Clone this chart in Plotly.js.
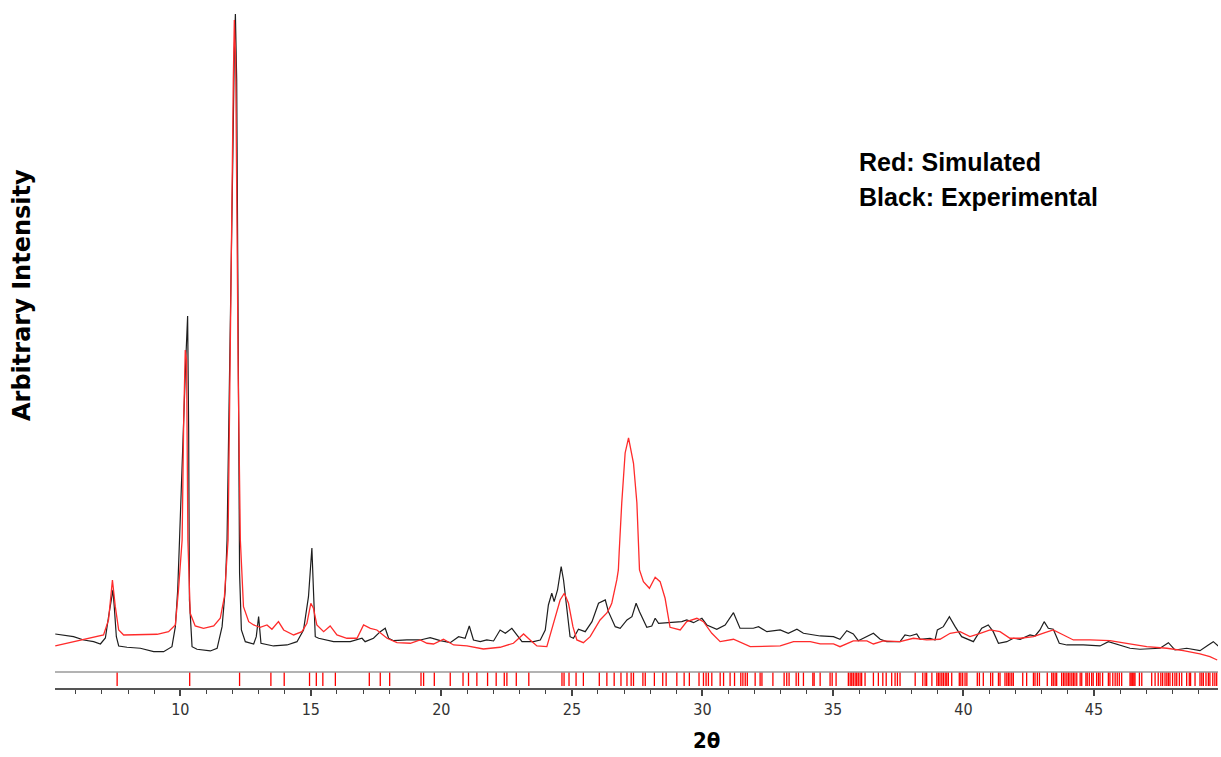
<!DOCTYPE html>
<html>
<head>
<meta charset="utf-8">
<script src="https://cdn.plot.ly/plotly-3.0.1.min.js"></script>
<style>html,body{margin:0;padding:0;background:#fff;}#chart{width:1221px;height:757px;}</style>
</head>
<body>
<div id="chart"></div>
<script>
// Experimental pattern (black): 2θ and arbitrary intensity
const expTwoTheta = [5.21,5.91,6.30,6.68,6.94,7.13,7.25,7.35,7.42,7.47,7.55,7.64,7.96,8.47,8.98,9.36,9.68,9.81,9.90,9.97,10.06,10.13,10.21,10.26,10.28,10.32,10.35,10.45,10.64,11.15,11.41,11.60,11.72,11.79,11.86,11.93,12.01,12.07,12.11,12.16,12.20,12.24,12.27,12.34,12.49,12.81,12.91,13.00,13.09,13.57,14.09,14.47,14.72,14.91,15.04,15.10,15.17,15.30,15.87,16.51,16.96,17.08,17.40,17.66,17.85,17.98,18.17,18.68,19.19,19.57,19.96,20.34,20.66,20.91,21.07,21.23,21.49,21.74,22.00,22.25,22.45,22.70,22.89,23.09,23.53,23.79,23.98,24.10,24.23,24.32,24.45,24.59,24.68,24.81,24.93,25.06,25.25,25.51,25.77,26.02,26.28,26.40,26.66,26.85,27.11,27.30,27.46,27.59,27.74,27.87,28.06,28.19,28.32,28.64,28.89,29.21,29.40,29.66,29.98,30.17,30.55,30.87,31.19,31.44,31.95,32.15,32.47,32.98,33.29,33.62,33.87,34.25,34.51,35.02,35.27,35.53,35.78,35.97,36.23,36.55,36.81,37.06,37.57,37.76,37.95,38.21,38.34,38.72,38.91,39.00,39.23,39.46,39.68,39.93,40.38,40.70,40.95,41.14,41.34,41.66,41.91,42.17,42.55,42.74,42.93,43.09,43.25,43.44,43.67,43.96,44.59,45.23,45.55,45.87,46.38,46.76,47.53,47.85,48.10,48.55,49.06,49.38,49.57,49.76];
const expIntensity = [38,35.3,32,30.3,28,34,55,72,82,65.3,35.3,26,24.7,23.7,20.3,20.3,25.3,45.3,82,132,192,252,312,347,356,242,72,25.3,22.7,21,23.7,45.3,82,132,242,372,512,622,658,592,422,242,99,42,30.3,28,35.3,55.3,28.7,26,27,30.3,42,75.3,124,82,35.3,33.7,30.3,30.3,33.7,30.3,33.7,40.3,43.7,33.7,31.3,32,32,34.3,31.3,29.3,35.3,33.7,46,32,30.3,32,31,42,38.7,43.7,37,30.3,30.3,32,42,67,78.7,70.3,82,105.3,92,58.7,35.3,33.7,42.7,40.3,50.3,68.7,72,60.3,45.3,43.7,52,55.3,68.7,60.3,52,44.7,46,53.7,48.7,49.3,49.3,50.3,52,49.3,53.7,47,42.7,47,59.3,43.7,43.7,45.3,40.3,42,38.7,42.7,38.7,37,36,35.3,32.7,41.3,38,31.3,34.7,38.7,32.7,30.3,30.3,37,36,38,32.7,33.7,32,42,45.3,55.3,45.3,35.3,30.3,43.7,47,40.3,28.7,30.3,33.7,32.7,37,36,42,50.3,43.7,42.7,28.7,27,27,26,30.3,28,23.7,22.7,23.7,29.3,22,23.7,21.3,27,30.3,26];

// Simulated pattern (red)
const simTwoTheta = [5.21,5.91,6.55,7.06,7.25,7.40,7.51,7.64,7.83,8.47,9.11,9.55,9.81,9.93,10.07,10.13,10.19,10.24,10.29,10.38,10.57,10.89,11.28,11.53,11.69,11.83,11.90,11.97,12.03,12.07,12.12,12.16,12.22,12.30,12.42,12.62,12.81,13.06,13.32,13.51,13.76,13.96,14.34,14.66,14.85,15.00,15.10,15.23,15.49,15.74,16.00,16.38,16.77,17.02,17.28,17.53,17.92,18.30,18.81,19.19,19.45,19.70,20.08,20.47,20.98,21.61,22.25,22.76,23.15,23.40,23.66,24.04,24.30,24.55,24.71,24.87,25.04,25.19,25.44,25.70,26.08,26.34,26.47,26.53,26.72,26.78,26.81,26.91,27.04,27.17,27.36,27.49,27.59,27.74,27.97,28.19,28.38,28.57,28.76,29.15,29.40,29.79,30.04,30.36,30.68,31.19,31.83,32.47,32.98,33.49,34.13,34.51,35.02,35.27,35.78,36.30,36.55,36.93,37.57,38.08,38.59,39.10,39.49,39.87,40.25,40.64,41.02,41.40,41.78,42.17,42.68,43.12,43.44,43.83,44.21,44.85,45.61,46.25,47.02,47.79,48.42,49.06,49.44,49.72];
const simIntensity = [26,30.3,33.7,37,52,92,65.3,42,37,37,37.7,40.3,47,82,132,252,322,312,132,58.7,46,43.7,46,53.7,75.3,132,272,452,592,652,612,472,292,132,65.3,50.3,47,44.7,47,42.7,50.3,42,37,40.3,48.7,68.7,63.7,47,40.3,46,37,33.7,33.7,47,43.7,42,33.7,29.3,28.7,32,28.7,28,32.7,27,26,23,24.7,28.7,38,32,26,25.3,50.3,72,78.7,68.7,45.3,32,29.3,35.3,52,59,65.3,69,92,102,119,169,219,234,208.7,169,102,90.3,83.7,94.7,90.3,73.7,44.7,42,50.3,53.7,50.3,38.7,30.3,32.7,25.3,26,26,30.3,30.3,28,28,25.3,31,31,28,31,30.3,33.7,32,32.7,38.7,40.3,35.3,38.7,42,40.3,33.7,33.7,35.3,39.3,42,37,32,32,31.3,28.7,25.3,23.7,21.3,18,15.3,12];

// Calculated reflection positions (2θ)
const reflections = [7.58,10.36,12.27,13.47,13.98,14.95,15.21,15.46,15.94,17.24,17.66,18.02,19.22,19.32,19.73,20.34,20.83,21.04,21.36,21.77,22.10,22.41,22.51,22.87,23.35,24.62,24.70,24.89,25.16,25.44,26.05,26.34,26.62,26.88,27.11,27.27,27.36,27.72,27.81,28.16,28.48,28.61,29.02,29.30,29.50,29.87,30.04,30.14,30.23,30.36,30.68,30.81,31.06,31.23,31.47,31.55,31.64,31.72,32.02,32.21,32.28,32.70,33.13,33.23,33.32,33.59,33.68,33.87,34.23,34.28,34.51,34.89,34.97,35.12,35.59,35.66,35.72,35.78,35.85,35.91,35.97,36.04,36.10,36.23,36.55,36.74,36.91,37.04,37.25,37.38,37.47,37.57,38.15,38.44,38.53,38.59,38.79,38.98,39.04,39.10,39.17,39.23,39.30,39.36,39.42,39.55,39.84,39.90,39.97,40.06,40.13,40.53,40.61,40.76,41.04,41.12,41.34,41.40,41.59,41.66,41.72,41.78,41.85,41.91,42.27,42.42,42.68,42.74,42.83,42.91,43.21,43.38,43.44,43.51,43.57,43.76,43.83,43.89,43.96,44.02,44.08,44.15,44.21,44.27,44.34,44.47,44.53,44.69,44.74,44.82,44.91,44.97,45.10,45.17,45.23,45.33,45.55,45.61,45.72,45.81,45.89,45.97,46.06,46.38,46.42,46.46,46.49,46.53,46.57,46.74,46.83,47.21,47.34,47.46,47.56,47.63,47.72,47.79,47.85,47.91,48.01,48.10,48.17,48.27,48.36,48.55,48.65,48.70,48.87,49.06,49.13,49.19,49.29,49.38,49.44,49.55,49.63,49.70];

const xTicks = [10,15,20,25,30,35,40,45];

const traces = [
  {x: expTwoTheta, y: expIntensity, type: 'scatter', mode: 'lines', name: 'Experimental',
   line: {color: '#1e1e1e', width: 1.2}, xaxis: 'x', yaxis: 'y', hoverinfo: 'x+y'},
  {x: simTwoTheta, y: simIntensity, type: 'scatter', mode: 'lines', name: 'Simulated',
   line: {color: '#ff2b2b', width: 1.3}, xaxis: 'x', yaxis: 'y', hoverinfo: 'x+y'},
  {x: reflections, y: reflections.map(() => 0.56), type: 'scatter', mode: 'markers', name: 'Reflections',
   marker: {symbol: 'line-ns', size: 10, color: '#ff0000', line: {color: '#ff0000', width: 1.3}},
   xaxis: 'x', yaxis: 'y2', hoverinfo: 'x'}
];

const layout = {
  width: 1221, height: 757,
  margin: {l: 55, r: 3, t: 0, b: 69},
  paper_bgcolor: '#ffffff', plot_bgcolor: '#ffffff',
  showlegend: false,
  xaxis: {
    range: [5.2, 49.75], anchor: 'y2',
    showline: true, linecolor: '#555555', linewidth: 2,
    ticks: 'outside', ticklen: 6, tickwidth: 1.5, tickcolor: '#444444',
    tickmode: 'array', tickvals: xTicks, ticktext: xTicks.map(String),
    showgrid: false, zeroline: false,
    tickfont: {family: '"Liberation Sans Narrow", "DejaVu Sans Condensed", "Liberation Sans", Arial, sans-serif', size: 16, color: '#333333'},
    minor: {dtick: 1, tick0: 0, ticks: 'outside', ticklen: 4, tickwidth: 1.2, tickcolor: '#444444', showgrid: false}
  },
  yaxis: {domain: [0.0233, 1], range: [0, 672], visible: false, fixedrange: true},
  yaxis2: {domain: [0, 0.0233], range: [0, 1], visible: false, fixedrange: true},
  shapes: [
    {type: 'line', xref: 'paper', x0: 0, x1: 1, yref: 'y2 domain', y0: 1, y1: 1,
     line: {color: '#9a9a9a', width: 1.5}}
  ],
  annotations: [
    {text: '2θ', xref: 'paper', yref: 'paper', x: 0.5598, y: -0.077, xanchor: 'center', yanchor: 'middle',
     showarrow: false, font: {family: '"Liberation Sans Narrow", "DejaVu Sans Condensed", "Liberation Sans", Arial, sans-serif', size: 22, color: '#000', weight: 'bold'}},
    {text: 'Arbitrary Intensity', xref: 'paper', yref: 'paper', x: -0.0284, y: 0.5712, xanchor: 'center', yanchor: 'middle',
     textangle: -90, showarrow: false, font: {family: '"DejaVu Sans", sans-serif', size: 24, color: '#000', weight: 'bold'}},
    {text: 'Red: Simulated', xref: 'paper', yref: 'paper', x: 0.6896, y: 0.7645, xanchor: 'left', yanchor: 'middle',
     showarrow: false, font: {family: '"Liberation Sans", Arial, sans-serif', size: 25, color: '#000', weight: 'bold'}},
    {text: 'Black: Experimental', xref: 'paper', yref: 'paper', x: 0.6896, y: 0.7137, xanchor: 'left', yanchor: 'middle',
     showarrow: false, font: {family: '"Liberation Sans", Arial, sans-serif', size: 25, color: '#000', weight: 'bold'}}
  ]
};

Plotly.newPlot('chart', traces, layout, {displayModeBar: false, staticPlot: false});
</script>
</body>
</html>
